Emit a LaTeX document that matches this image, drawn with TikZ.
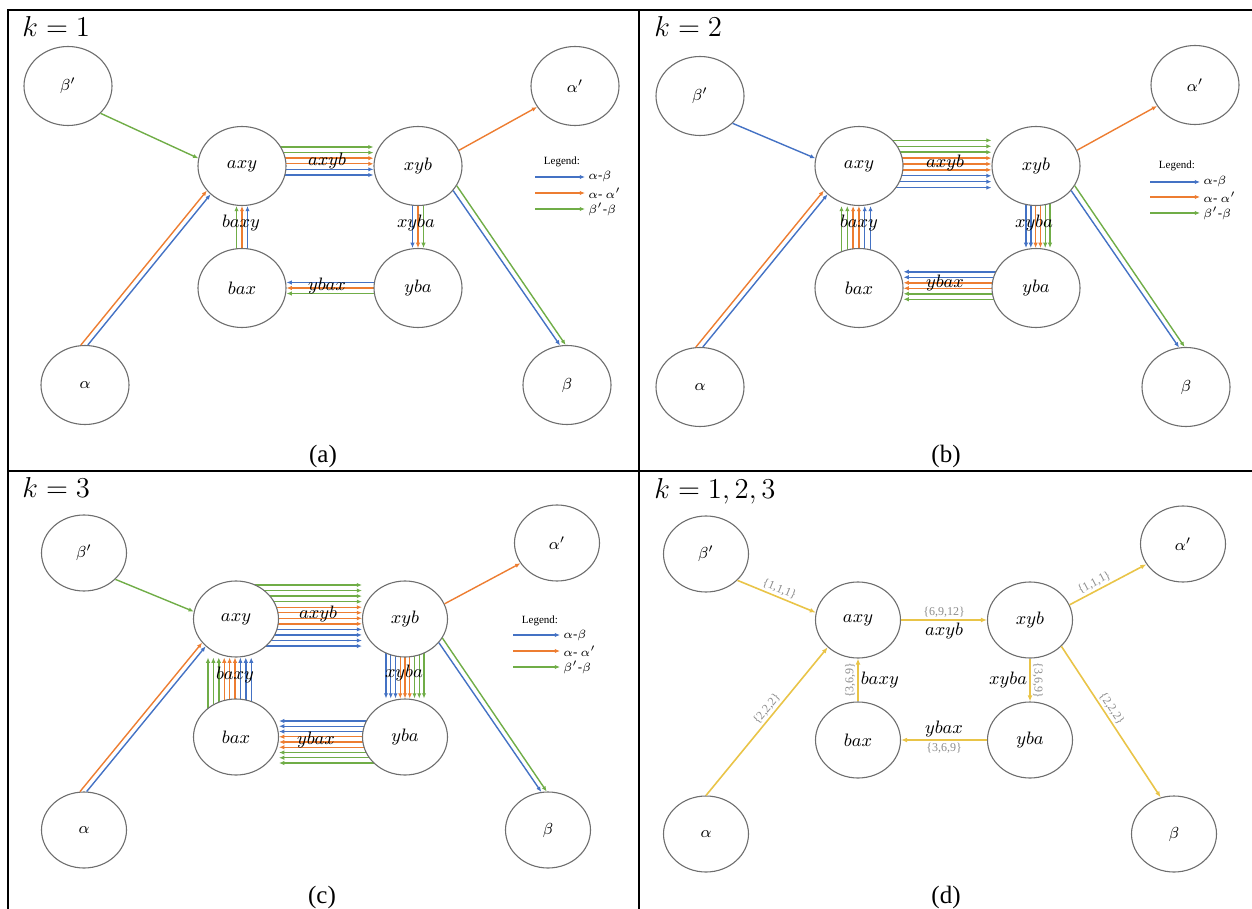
\documentclass[tikz,border=0pt]{standalone}
\usepackage{fontspec}
\setmainfont{Liberation Serif}
\usepackage{tikz}
\usetikzlibrary{arrows.meta}
\usetikzlibrary{positioning,calc,backgrounds}
\usetikzlibrary{shapes.geometric}
\definecolor{pathab}{RGB}{68,114,196}
\definecolor{pathaa}{RGB}{237,125,49}
\definecolor{pathbb}{RGB}{112,173,71}
\definecolor{pathall}{RGB}{233,196,72}
\definecolor{ringgray}{RGB}{110,110,110}
\definecolor{countgray}{RGB}{140,140,140}

\tikzset{
  state/.style={ellipse,draw=ringgray,fill=white,line width=0.55pt,
    minimum width=44pt,minimum height=39.5pt,inner sep=0pt,
    font=\fontsize{9.5}{11}\selectfont},
  greek/.style={font=\fontsize{8}{9}\selectfont},
  flow/.style={-{Latex[length=2.6pt,width=2.2pt]},line width=0.7pt,#1},
  joint/.style={-{Latex[length=3pt,width=2.4pt]},line width=0.8pt,pathall},
  tag/.style={font=\fontsize{9.5}{11}\selectfont,inner sep=1pt,text=black},
  count/.style={font=\fontsize{6}{7}\selectfont,text=countgray,inner sep=1pt},
  klabel/.style={anchor=base west,font=\fontsize{13.5}{15}\selectfont,inner sep=0pt},
  caption/.style={anchor=base,font=\fontsize{12.5}{14}\selectfont,inner sep=0pt},
  legtitle/.style={font=\fontsize{5.5}{6}\selectfont,inner sep=0pt},
  legkey/.style={anchor=west,font=\fontsize{6.5}{7}\selectfont,inner sep=0pt},
  frame/.style={line width=1.25pt,black}
}

\begin{document}
\begin{tikzpicture}[x=0.5pt,y=-0.5pt]
  \useasboundingbox (0,0) rectangle (1252,909);
  % 2x2 grid
  \draw[frame] (8,909) -- (8,10) -- (1252,10);
  \draw[frame] (639,10) -- (639,909);
  \draw[frame] (8,471) -- (1252,471);

  % ---------- (a) k=1
  \node[klabel] (ka) at (22,37) {$k=1$};
  \node[state,greek] (bp1) at (68,86) {$\beta'$};
  \node[state,greek] (ap1) at (575,86) {$\alpha'$};
  \node[state] (axy1) at (242,166) {$axy$};
  \node[state] (xyb1) at (418,166) {$xyb$};
  \node[state] (bax1) at (242,288) {$bax$};
  \node[state] (yba1) at (418,288) {$yba$};
  \node[state,greek] (al1) at (85,385) {$\alpha$};
  \node[state,greek] (be1) at (567,385) {$\beta$};
  \begin{scope}[on background layer]
    \foreach \c [count=\i from 0] in {pathbb,pathbb,pathaa,pathaa,pathab,pathab}
      \draw[flow=\c] ($(axy1)+(0,-19+5.6*\i)$) -- ($(xyb1.west)+(0,-19+5.6*\i)$);
    \foreach \c [count=\i from 0] in {pathbb,pathaa,pathab}
      \draw[flow=\c] ($(bax1)+(-5.5+5.5*\i,0)$) -- ($(axy1.south)+(-5.5+5.5*\i,0)$);
    \foreach \c [count=\i from 0] in {pathab,pathaa,pathbb}
      \draw[flow=\c] ($(xyb1)+(-5.5+5.5*\i,0)$) -- ($(yba1.north)+(-5.5+5.5*\i,0)$);
    \foreach \c [count=\i from 0] in {pathab,pathaa,pathbb}
      \draw[flow=\c] ($(yba1)+(0,-5.5+5.5*\i)$) -- ($(bax1.east)+(0,-5.5+5.5*\i)$);
  \end{scope}
  \draw[flow=pathbb] (bp1.320) -- (axy1.170);
  \draw[flow=pathaa] (xyb1.21) -- (ap1.209);
  \draw[flow=pathaa] (al1.96) -- (axy1.215);
  \draw[flow=pathab] (al1.86) -- (axy1.222);
  \draw[flow=pathab] (xyb1.325) -- (be1.100);
  \draw[flow=pathbb] (xyb1.333) -- (be1.92);
  \node[tag] (la1) at (327,161) {$axyb$};
  \node[tag] (lb1) at (241,223) {$baxy$};
  \node[tag] (lc1) at (416,223) {$xyba$};
  \node[tag] (ld1) at (327,286) {$ybax$};
  % legend
  \node[legtitle] (lg1) at (562,162) {Legend:};
  \node[legkey] (lk1ab) at (588,177) {$\alpha$-$\beta$};
  \node[legkey] (lk1aa) at (588,193) {$\alpha$- $\alpha'$};
  \node[legkey] (lk1bb) at (588,209) {$\beta'$-$\beta$};
  \draw[flow=pathab] ($(lk1ab.west)+(-53,0)$) -- ($(lk1ab.west)+(-3,0)$);
  \draw[flow=pathaa] ($(lk1aa.west)+(-53,0)$) -- ($(lk1aa.west)+(-3,0)$);
  \draw[flow=pathbb] ($(lk1bb.west)+(-53,0)$) -- ($(lk1bb.west)+(-3,0)$);
  \node[caption] (capa) at (323,462) {(a)};

  % ---------- (b) k=2
  \node[klabel] (kb) at (654,37) {$k=2$};
  \node[state,greek] (bp2) at (700,96) {$\beta'$};
  \node[state,greek] (ap2) at (1195,85) {$\alpha'$};
  \node[state] (axy2) at (859,166) {$axy$};
  \node[state] (xyb2) at (1036,166) {$xyb$};
  \node[state] (bax2) at (859,288) {$bax$};
  \node[state] (yba2) at (1036,288) {$yba$};
  \node[state,greek] (al2) at (700,387) {$\alpha$};
  \node[state,greek] (be2) at (1186,387) {$\beta$};
  \begin{scope}[on background layer]
    \foreach \c [count=\i from 0] in {pathbb,pathbb,pathbb,pathaa,pathaa,pathaa,pathab,pathab,pathab}
      \draw[flow=\c] ($(axy2)+(0,-25.6+5.9*\i)$) -- ($(xyb2.west)+(0,-25.6+5.9*\i)$);
    \foreach \c [count=\i from 0] in {pathbb,pathbb,pathaa,pathaa,pathab,pathab}
      \draw[flow=\c] ($(bax2)+(-17.5+5.8*\i,0)$) -- ($(axy2.south)+(-17.5+5.8*\i,0)$);
    \foreach \c [count=\i from 0] in {pathab,pathab,pathaa,pathaa,pathbb,pathbb}
      \draw[flow=\c] ($(xyb2)+(-10+4.8*\i,0)$) -- ($(yba2.north)+(-10+4.8*\i,0)$);
    \foreach \c [count=\i from 0] in {pathab,pathab,pathaa,pathaa,pathbb,pathbb}
      \draw[flow=\c] ($(yba2)+(0,-16.2+5.5*\i)$) -- ($(bax2.east)+(0,-16.2+5.5*\i)$);
  \end{scope}
  \draw[flow=pathab] (bp2.320) -- (axy2.170);
  \draw[flow=pathaa] (xyb2.21) -- (ap2.209);
  \draw[flow=pathaa] (al2.96) -- (axy2.215);
  \draw[flow=pathab] (al2.86) -- (axy2.222);
  \draw[flow=pathab] (xyb2.325) -- (be2.100);
  \draw[flow=pathbb] (xyb2.333) -- (be2.92);
  \node[tag] (la2) at (945,163) {$axyb$};
  \node[tag] (lb2) at (859,223) {$baxy$};
  \node[tag] (lc2) at (1034,223) {$xyba$};
  \node[tag] (ld2) at (945,283) {$ybax$};
  \node[legtitle] (lg2) at (1177,166) {Legend:};
  \node[legkey] (lk2ab) at (1203,182) {$\alpha$-$\beta$};
  \node[legkey] (lk2aa) at (1203,197) {$\alpha$- $\alpha'$};
  \node[legkey] (lk2bb) at (1203,213) {$\beta'$-$\beta$};
  \draw[flow=pathab] ($(lk2ab.west)+(-53,0)$) -- ($(lk2ab.west)+(-3,0)$);
  \draw[flow=pathaa] ($(lk2aa.west)+(-53,0)$) -- ($(lk2aa.west)+(-3,0)$);
  \draw[flow=pathbb] ($(lk2bb.west)+(-53,0)$) -- ($(lk2bb.west)+(-3,0)$);
  \node[caption] (capb) at (946,462) {(b)};

  % ---------- (c) k=3
  \begin{scope}[state/.append style={minimum width=42.5pt,minimum height=38pt}]
  \node[klabel] (kc) at (22,497) {$k=3$};
  \node[state,greek] (bp3) at (84,553) {$\beta'$};
  \node[state,greek] (ap3) at (557,543) {$\alpha'$};
  \node[state] (axy3) at (236,619) {$axy$};
  \node[state] (xyb3) at (405,619) {$xyb$};
  \node[state] (bax3) at (236,737) {$bax$};
  \node[state] (yba3) at (405,737) {$yba$};
  \node[state,greek] (al3) at (84,830) {$\alpha$};
  \node[state,greek] (be3) at (548,830) {$\beta$};
  \end{scope}
  \begin{scope}[on background layer]
    \foreach \c [count=\i from 0] in {pathbb,pathbb,pathbb,pathbb,pathaa,pathaa,pathaa,pathaa,pathab,pathab,pathab,pathab}
      \draw[flow=\c] ($(axy3)+(0,-34+5.55*\i)$) -- ($(xyb3.west)+(0,-34+5.55*\i)$);
    \foreach \c [count=\i from 0] in {pathbb,pathbb,pathbb,pathaa,pathaa,pathaa,pathab,pathab,pathab}
      \draw[flow=\c] ($(bax3)+(-28+5.4*\i,0)$) -- ($(axy3.south)+(-28+5.4*\i,0)$);
    \foreach \c [count=\i from 0] in {pathab,pathab,pathab,pathaa,pathaa,pathaa,pathbb,pathbb,pathbb}
      \draw[flow=\c] ($(xyb3)+(-19+4.75*\i,0)$) -- ($(yba3.north)+(-19+4.75*\i,0)$);
    \foreach \c [count=\i from 0] in {pathab,pathab,pathab,pathaa,pathaa,pathaa,pathbb,pathbb,pathbb}
      \draw[flow=\c] ($(yba3)+(0,-16+5.25*\i)$) -- ($(bax3.east)+(0,-16+5.25*\i)$);
  \end{scope}
  \draw[flow=pathbb] (bp3.320) -- (axy3.170);
  \draw[flow=pathaa] (xyb3.21) -- (ap3.209);
  \draw[flow=pathaa] (al3.96) -- (axy3.215);
  \draw[flow=pathab] (al3.86) -- (axy3.222);
  \draw[flow=pathab] (xyb3.325) -- (be3.100);
  \draw[flow=pathbb] (xyb3.333) -- (be3.92);
  \node[tag] (la3) at (318,614) {$axyb$};
  \node[tag] (lb3) at (235,675) {$baxy$};
  \node[tag] (lc3) at (404,673) {$xyba$};
  \node[tag] (ld3) at (316,740) {$ybax$};
  \node[legtitle] (lg3) at (540,621) {Legend:};
  \node[legkey] (lk3ab) at (563,635) {$\alpha$-$\beta$};
  \node[legkey] (lk3aa) at (563,651) {$\alpha$- $\alpha'$};
  \node[legkey] (lk3bb) at (563,667) {$\beta'$-$\beta$};
  \draw[flow=pathab] ($(lk3ab.west)+(-50,0)$) -- ($(lk3ab.west)+(-3,0)$);
  \draw[flow=pathaa] ($(lk3aa.west)+(-50,0)$) -- ($(lk3aa.west)+(-3,0)$);
  \draw[flow=pathbb] ($(lk3bb.west)+(-50,0)$) -- ($(lk3bb.west)+(-3,0)$);
  \node[caption] (capc) at (322,903) {(c)};

  % ---------- (d) all k together
  \begin{scope}[state/.append style={minimum width=42.5pt,minimum height=38pt}]
  \node[klabel] (kd) at (654,498) {$k=1,2,3$};
  \node[state,greek] (bp4) at (706,554) {$\beta'$};
  \node[state,greek] (ap4) at (1183,544) {$\alpha'$};
  \node[state] (axy4) at (858,620) {$axy$};
  \node[state] (xyb4) at (1030,620) {$xyb$};
  \node[state] (bax4) at (858,740) {$bax$};
  \node[state] (yba4) at (1030,740) {$yba$};
  \node[state,greek] (al4) at (706,834) {$\alpha$};
  \node[state,greek] (be4) at (1174,834) {$\beta$};
  \end{scope}
  \draw[joint] (bp4.320) -- (axy4.170)
    node[count,midway,above,sloped] (n41) {\{1,1,1\}};
  \draw[joint] (xyb4.21) -- (ap4.209)
    node[count,pos=.37,above,sloped] (n42) {\{1,1,1\}};
  \draw[joint] (al4.north) -- (axy4.222)
    node[count,pos=.55,above,sloped] (n43) {\{2,2,2\}};
  \draw[joint] (xyb4.320) -- (be4.110)
    node[count,pos=.44,above,sloped] (n44) {\{2,2,2\}};
  \draw[joint] (axy4) -- (xyb4)
    node[count,midway,above] (n45) {\{6,9,12\}}
    node[tag,midway,below] (la4) {$axyb$};
  \draw[joint] (bax4) -- (axy4)
    node[count,midway,above,sloped] (n46) {\{3,6,9\}}
    node[tag,midway,right] (lb4) {$baxy$};
  \draw[joint] (xyb4) -- (yba4)
    node[count,midway,above,sloped] (n47) {\{3,6,9\}}
    node[tag,midway,left] (lc4) {$xyba$};
  \draw[joint] (yba4) -- (bax4)
    node[tag,midway,above] (ld4) {$ybax$}
    node[count,midway,below] (n48) {\{3,6,9\}};
  \node[caption] (capd) at (946,903) {(d)};
\end{tikzpicture}
\end{document}
